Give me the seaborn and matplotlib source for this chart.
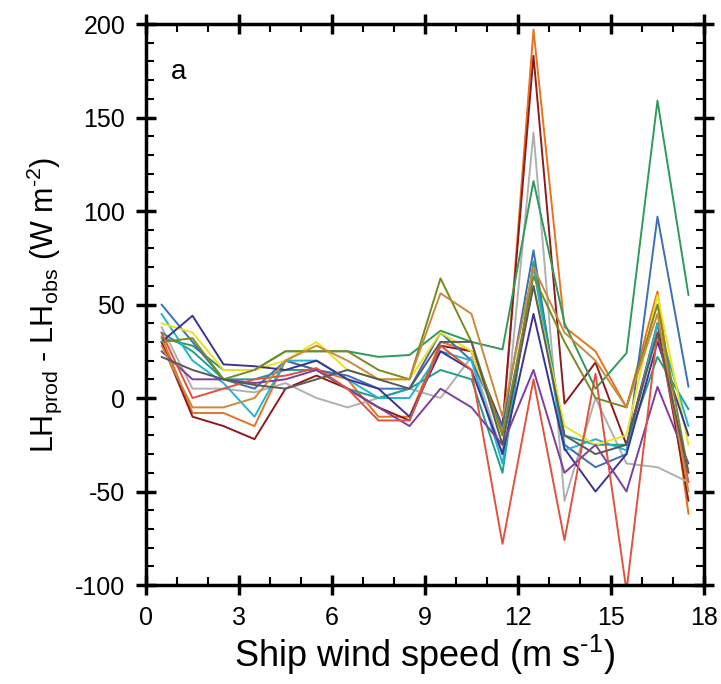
import matplotlib
matplotlib.use("Agg")
import matplotlib.pyplot as plt
from matplotlib.ticker import MultipleLocator
import numpy as np
import pandas as pd
import seaborn as sns

# wind speed bin centres (m/s)
wind = [0.5, 1.5, 2.5, 3.5, 4.5, 5.5, 6.5, 7.5, 8.5, 9.5, 10.5, 11.5, 12.5, 13.5, 14.5, 15.5, 16.5, 17.5]

# LH_prod - LH_obs for each product (W m-2)
orange   = [33, -8, -8, -15, 20, 15, 10, -10, -10, 30, 25, -18, 197, 38, 25, -5, 57, -62]
darkred  = [30, -10, -15, -22, 5, 12, 5, -5, -12, 28, 25, -15, 183, -3, 19, -25, 40, -55]
gray     = [38, 5, 5, 3, 8, 0, -5, 0, 5, 0, 22, -30, 142, -55, 0, -35, -37, -45]
green    = [32, 28, 15, 15, 25, 25, 25, 22, 23, 36, 30, 26, 116, 40, 5, 24, 159, 55]
blue     = [50, 30, 10, 5, 20, 15, 12, 5, 5, 35, 20, -15, 79, -25, -37, -30, 97, 6]
teal     = [35, 25, 10, 10, 15, 15, 5, 0, 5, 15, 10, -40, 73, -20, -25, -25, 22, -6]
cyan     = [45, 20, 8, -10, 20, 20, 10, 0, 0, 25, 20, -35, 70, -28, -22, -28, 40, -15]
yellow   = [40, 35, 15, 15, 20, 30, 15, 10, 10, 35, 25, -20, 60, -15, -25, -20, 55, -25]
navy     = [30, 44, 18, 17, 15, 20, 10, 5, -10, 25, 15, -30, 45, -27, -50, -30, 30, -20]
purple   = [25, 10, 10, 8, 10, 15, 5, -5, -15, 5, -5, -25, 15, -40, -25, -50, 6, -35]
red      = [35, 0, 5, 10, 12, 16, 5, -12, -12, 28, 15, -78, 10, -76, 13, -103, 35, -45]
olive    = [30, 32, 10, 15, 25, 25, 25, 15, 10, 64, 30, -20, 65, 30, 0, -5, 50, -40]
tan      = [28, -5, -5, 0, 20, 28, 20, 10, 10, 56, 45, -10, 70, 35, 20, -5, 45, -50]
darkgray = [22, 15, 10, 7, 5, 10, 15, 10, 5, 30, 30, -25, 60, -20, -30, -25, 35, -40]

series = {
    "orange": orange, "darkred": darkred, "gray": gray, "green": green,
    "blue": blue, "teal": teal, "cyan": cyan, "yellow": yellow,
    "navy": navy, "purple": purple, "red": red, "olive": olive,
    "tan": tan, "darkgray": darkgray,
}
colors = {
    "orange": "#e8731e", "darkred": "#8e1b1b", "gray": "#b0b0b0", "green": "#2f9a5c",
    "blue": "#3b6fb6", "teal": "#1fa08c", "cyan": "#22b4d2", "yellow": "#ece21e",
    "navy": "#3a3592", "purple": "#7b3f9f", "red": "#e0523e", "olive": "#7a8a22",
    "tan": "#c98a3c", "darkgray": "#5a5a5a",
}

rows = []
for name, vals in series.items():
    for w, v in zip(wind, vals):
        rows.append({"wind": w, "dLH": v, "product": name})
df = pd.DataFrame(rows)

sns.set_style("white")
plt.rcParams["font.family"] = ["Liberation Sans", "DejaVu Sans"]
plt.rcParams["mathtext.fontset"] = "custom"
plt.rcParams["mathtext.rm"] = "Liberation Sans"
plt.rcParams["axes.unicode_minus"] = False
plt.rcParams["text.color"] = "black"
plt.rcParams["axes.labelcolor"] = "black"

fig = plt.figure(figsize=(7.21, 6.84), dpi=100)
ax = fig.add_axes([0.2025, 0.1447, 0.7739, 0.8202])

sns.lineplot(data=df, x="wind", y="dLH", hue="product", palette=colors,
             linewidth=1.4, legend=False, ax=ax, sort=False)

ax.set_xlim(0, 18)
ax.set_ylim(-100, 200)
ax.xaxis.set_major_locator(MultipleLocator(3))
ax.xaxis.set_minor_locator(MultipleLocator(1))
ax.yaxis.set_major_locator(MultipleLocator(50))
ax.yaxis.set_minor_locator(MultipleLocator(10))
ax.tick_params(which="major", direction="inout", length=14, width=2.5,
               bottom=True, left=True, top=True, right=True,
               colors="black", labelsize=18, pad=8)
ax.tick_params(which="minor", direction="in", length=6, width=1.5,
               bottom=True, left=True, top=True, right=True, colors="black")
for s in ax.spines.values():
    s.set_linewidth(2.5)
    s.set_color("black")

ax.set_xlabel("Ship wind speed (m s$^{\\rm \u20101}$)", fontsize=26, labelpad=2)
ax.set_ylabel("LH$_{\\rm prod}$ - LH$_{\\rm obs}$ (W m$^{\\rm \u20102}$)", fontsize=22, labelpad=8)
ax.text(0.045, 0.915, "a", transform=ax.transAxes, fontsize=20, va="center")

fig.savefig("out.png", dpi=100)
